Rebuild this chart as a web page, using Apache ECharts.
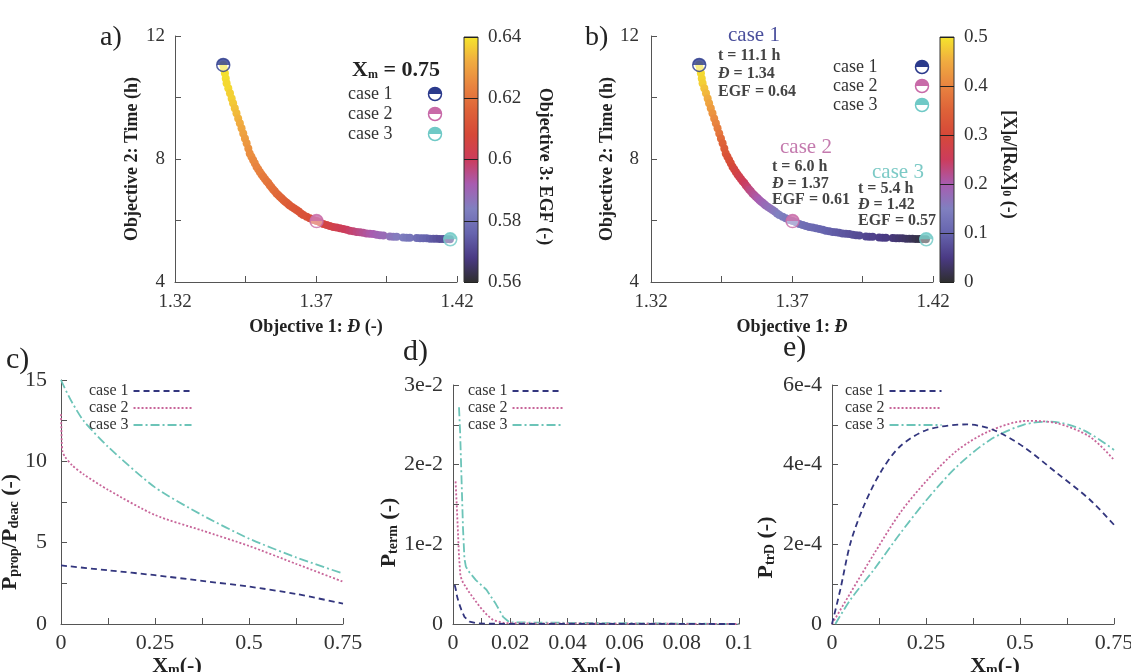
<!DOCTYPE html>
<html><head><meta charset="utf-8">
<script src="https://cdn.jsdelivr.net/npm/echarts@6/dist/echarts.min.js"></script>
<style>html,body{margin:0;padding:0;background:#fff}#c{width:1131px;height:672px}</style>
</head><body><div id="c"></div>
<script>
const FONT = '"Liberation Serif", "Times New Roman", serif';

// ---------- Pareto front (panels a, b) ----------
const paretoD = [
1.3371,1.3374,1.3377,1.3380,1.3383,1.3389,1.3395,1.3401,1.3406,1.3412,
1.3418,1.3424,1.3430,1.3436,1.3442,1.3448,1.3454,1.3460,1.3465,1.3471,
1.3477,1.3483,1.3489,1.3495,1.3501,1.3507,1.3513,1.3519,1.3525,1.3531,
1.3536,1.3542,1.3548,1.3554,1.3560,1.3566,1.3572,1.3578,1.3584,1.3590,
1.3596,1.3602,1.3607,1.3615,1.3623,1.3631,1.3639,1.3647,1.3655,1.3667,
1.3678,1.3690,1.3702,1.3714,1.3726,1.3738,1.3749,1.3761,1.3773,1.3785,
1.3797,1.3809,1.3820,1.3832,1.3844,1.3856,1.3867,1.3879,1.3891,1.3903,
1.3915,1.3927,1.3939,1.3962,1.3974,1.3986,1.4009,1.4021,1.4033,1.4057,
1.4069,1.4080,1.4092,1.4104,1.4116,1.4127,1.4139,1.4151,1.4163,1.4175];
const paretoTime = [
11.06,10.92,10.79,10.62,10.46,10.30,10.14,9.97,9.81,9.65,
9.49,9.32,9.16,9.00,8.83,8.67,8.51,8.34,8.18,8.07,
7.97,7.86,7.75,7.67,7.58,7.50,7.42,7.35,7.28,7.22,
7.15,7.08,7.01,6.95,6.88,6.83,6.77,6.72,6.67,6.62,
6.58,6.53,6.49,6.44,6.39,6.34,6.29,6.23,6.18,6.12,
6.07,6.02,5.98,5.94,5.89,5.85,5.82,5.79,5.77,5.75,
5.72,5.70,5.67,5.65,5.63,5.62,5.60,5.58,5.57,5.56,
5.54,5.52,5.51,5.48,5.47,5.47,5.45,5.44,5.44,5.43,
5.42,5.42,5.42,5.41,5.41,5.41,5.40,5.40,5.39,5.39];
const paretoEGF = [
0.640,0.640,0.639,0.639,0.638,0.638,0.637,0.637,0.636,0.635,
0.634,0.633,0.632,0.631,0.630,0.629,0.628,0.627,0.626,0.626,
0.625,0.625,0.624,0.624,0.623,0.623,0.622,0.622,0.621,0.621,
0.620,0.620,0.619,0.619,0.618,0.618,0.617,0.617,0.616,0.616,
0.615,0.615,0.614,0.614,0.613,0.613,0.612,0.612,0.611,0.611,
0.610,0.610,0.609,0.608,0.607,0.606,0.605,0.604,0.603,0.602,
0.601,0.600,0.599,0.598,0.597,0.596,0.595,0.594,0.593,0.592,
0.591,0.590,0.589,0.587,0.586,0.585,0.583,0.582,0.581,0.579,
0.578,0.577,0.576,0.575,0.574,0.573,0.572,0.572,0.571,0.570];
const paretoRatio = [
0.500,0.495,0.490,0.485,0.480,0.470,0.460,0.450,0.440,0.430,
0.420,0.410,0.400,0.390,0.380,0.365,0.350,0.340,0.330,0.320,
0.315,0.310,0.300,0.290,0.285,0.280,0.270,0.265,0.260,0.250,
0.245,0.240,0.230,0.225,0.220,0.215,0.210,0.205,0.200,0.195,
0.190,0.185,0.180,0.175,0.170,0.165,0.160,0.155,0.150,0.145,
0.140,0.135,0.130,0.127,0.124,0.121,0.118,0.115,0.112,0.109,
0.106,0.103,0.100,0.097,0.094,0.091,0.088,0.085,0.082,0.079,
0.076,0.073,0.070,0.066,0.063,0.060,0.055,0.052,0.049,0.044,
0.041,0.038,0.035,0.032,0.028,0.024,0.020,0.015,0.010,0.005];

const caseNames = ['case 1','case 2','case 3'];
const caseD = [1.3371, 1.3702, 1.4176];
const caseTime = [11.06, 5.98, 5.39];
const caseColors = ['#2b3a8c','#c86aa8','#6fc9c6'];
const caseTextColors = ['#4a4f9c','#c47aae','#7ccac6'];
const caseT = ['t = 11.1 h','t = 6.0 h','t = 5.4 h'];
const caseDisp = ['1.34','1.37','1.42'];
const caseEGFtxt = ['0.64','0.61','0.57'];

// ---------- panel c ----------
const cXm1 = [0, 0.125, 0.25, 0.375, 0.5, 0.625, 0.75];
const cCase1 = [3.6, 3.3, 3.0, 2.65, 2.3, 1.85, 1.25];
const cXm2 = [0, 0.001, 0.002, 0.004, 0.01, 0.03, 0.06, 0.125, 0.25, 0.375, 0.5, 0.625, 0.75];
const cCase2 = [12.9, 12.0, 11.2, 10.6, 10.3, 9.75, 9.2, 8.25, 6.7, 5.75, 4.8, 3.7, 2.6];
const cXm3 = [0, 0.01, 0.03, 0.06, 0.125, 0.25, 0.375, 0.5, 0.625, 0.75];
const cCase3 = [15.0, 14.5, 13.6, 12.5, 10.9, 8.4, 6.7, 5.25, 4.1, 3.1];

// ---------- panel d ----------
const dXm1 = [0.0006, 0.001, 0.0014, 0.002, 0.0029, 0.004, 0.0058, 0.008, 0.012, 0.1];
const dCase1 = [0.0049, 0.0043, 0.0035, 0.0027, 0.0018, 0.0009, 0.0003, 0.0001, 0.00003, 0];
const dXm2 = [0.0009, 0.0013, 0.0017, 0.0021, 0.0026, 0.0035, 0.0058, 0.0093, 0.012, 0.014, 0.018, 0.1];
const dCase2 = [0.0179, 0.015, 0.0118, 0.0085, 0.006, 0.0052, 0.0039, 0.0022, 0.0011, 0.0005, 0.0001, 0];
const dXm3 = [0.0021, 0.0025, 0.003, 0.0035, 0.004, 0.0045, 0.0055, 0.008, 0.0117, 0.015, 0.0175, 0.0198, 0.1];
const dCase3 = [0.0272, 0.024, 0.018, 0.012, 0.0082, 0.0072, 0.0066, 0.0055, 0.0043, 0.0025, 0.0009, 0.0002, 0];

// ---------- panel e ----------
const eXm1 = [0, 0.022, 0.049, 0.084, 0.128, 0.18, 0.252, 0.359, 0.43, 0.509, 0.598, 0.686, 0.75];
const eCase1 = [0, 0.86e-4, 2.03e-4, 2.95e-4, 3.79e-4, 4.45e-4, 4.87e-4, 5.01e-4, 4.87e-4, 4.45e-4, 3.79e-4, 3.12e-4, 2.49e-4];
const eXm2 = [0, 0.049, 0.111, 0.182, 0.252, 0.332, 0.42, 0.518, 0.598, 0.686, 0.75];
const eCase2 = [0, 0.78e-4, 1.75e-4, 2.8e-4, 3.6e-4, 4.35e-4, 4.85e-4, 5.1e-4, 5.04e-4, 4.7e-4, 4.12e-4];
const eXm3 = [0.009, 0.049, 0.111, 0.182, 0.252, 0.332, 0.42, 0.509, 0.58, 0.668, 0.75];
const eCase3 = [0, 0.61e-4, 1.36e-4, 2.28e-4, 3.12e-4, 3.95e-4, 4.62e-4, 5.0e-4, 5.08e-4, 4.87e-4, 4.37e-4];

// ---------- tick labels ----------
const abXTicks = [1.32, 1.37, 1.42], abXText = ['1.32','1.37','1.42'];
const abYTicks = [4, 8, 12], abYText = ['4','8','12'];
const cbATicks = [0.56,0.58,0.60,0.62,0.64], cbAText = ['0.56','0.58','0.6','0.62','0.64'];
const cbBTicks = [0,0.1,0.2,0.3,0.4,0.5], cbBText = ['0','0.1','0.2','0.3','0.4','0.5'];
const xmTicks = [0, 0.25, 0.5, 0.75], xmText = ['0','0.25','0.5','0.75'];
const cYTicks = [0,5,10,15], cYText = ['0','5','10','15'];
const dXTicks = [0,0.02,0.04,0.06,0.08,0.1], dXText = ['0','0.02','0.04','0.06','0.08','0.1'];
const dYTicks = [0,0.01,0.02,0.03], dYText = ['0','1e-2','2e-2','3e-2'];
const eYTicks = [0,2e-4,4e-4,6e-4], eYText = ['0','2e-4','4e-4','6e-4'];

const cmap = ['#2e2e2e','#4a3a84','#6664ae','#8080c0','#a85cb0','#cc3c5c','#d64838','#de6238','#e88440','#f0ac40','#f5e62c'];
const lineColors = ['#33367e','#c8669a','#6cc4b8'];
const lineTypes = [[6,4],[2,2],[9,3,2,3]];

function labelFmt(vals, texts) {
  return function (v) {
    for (let i = 0; i < vals.length; i++) {
      if (Math.abs(v - vals[i]) < Math.abs(vals[vals.length-1] - vals[0]) * 1e-6 + 1e-12) return texts[i];
    }
    return '';
  };
}
const subRich = (fs) => ({ s: { fontFamily: FONT, fontWeight: 'bold', fontSize: fs, verticalAlign: 'bottom', color: '#222' },
                           i: { fontFamily: FONT, fontWeight: 'bold', fontStyle: 'italic', fontSize: 18, color: '#222' } });

function vAxis(o) {
  return {
    type: 'value', gridIndex: o.grid, min: o.min, max: o.max, interval: o.interval,
    position: o.position, show: o.show !== false,
    axisLine: { show: o.line !== false, onZero: false, lineStyle: { color: '#555', width: 1 } },
    axisTick: { show: o.tick !== false, inside: true, length: 6, lineStyle: { color: '#555' } },
    splitLine: { show: !!o.split, lineStyle: { color: '#222', width: 1 } },
    axisLabel: { fontFamily: FONT, fontSize: o.fs || 19, color: '#333', margin: o.margin || 9,
                 formatter: o.fmt, showMinLabel: true, showMaxLabel: true },
    name: o.name, nameLocation: 'middle', nameGap: o.gap, nameRotate: o.rot,
    nameTextStyle: { fontFamily: FONT, fontWeight: 'bold', fontSize: o.nfs || 18, color: '#222',
                     rich: subRich(o.subfs || 12), padding: o.pad || 0 }
  };
}

const grids = [
  { left: 175, right: 674, top: 36, bottom: 390 },        // a
  { left: 464, width: 14, top: 37, height: 245 },         // a colorbar
  { left: 651, right: 198, top: 36, bottom: 390 },        // b
  { left: 940, width: 14, top: 37, height: 245 },         // b colorbar
  { left: 61, right: 788, top: 380, bottom: 48 },         // c
  { left: 453, right: 392, top: 385, bottom: 48 },        // d
  { left: 832, right: 17, top: 385, bottom: 48 }          // e
].map(g => Object.assign({ containLabel: false, outerBoundsMode: 'none' }, g));
const cbGrad = { type: 'linear', x: 0, y: 1, x2: 0, y2: 0,
  colorStops: cmap.map((c, i) => ({ offset: i / (cmap.length - 1), color: c })) };
[1, 3].forEach(i => Object.assign(grids[i], { show: true, backgroundColor: cbGrad, borderColor: '#333', borderWidth: 1 }));

const xAxes = [
  vAxis({ grid: 0, min: 1.32, max: 1.42, interval: 0.025, fmt: labelFmt(abXTicks, abXText), margin: 11,
          name: 'Objective 1: {i|Đ} (-)', gap: 36 }),
  vAxis({ grid: 1, min: 0, max: 1, show: false }),
  vAxis({ grid: 2, min: 1.32, max: 1.42, interval: 0.025, fmt: labelFmt(abXTicks, abXText), margin: 11,
          name: 'Objective 1: {i|Đ}', gap: 36 }),
  vAxis({ grid: 3, min: 0, max: 1, show: false }),
  vAxis({ grid: 4, min: 0, max: 0.75, interval: 0.125, fmt: labelFmt(xmTicks, xmText), fs: 22, margin: 8,
          name: 'X{s|m}(-)', gap: 30, nfs: 22, subfs: 14, pad: [0, 50, 0, 0] }),
  vAxis({ grid: 5, min: 0, max: 0.1, interval: 0.01, fmt: labelFmt(dXTicks, dXText), fs: 22, margin: 8,
          name: 'X{s|m}(-)', gap: 30, nfs: 22, subfs: 14 }),
  vAxis({ grid: 6, min: 0, max: 0.75, interval: 0.125, fmt: labelFmt(xmTicks, xmText), fs: 22, margin: 8,
          name: 'X{s|m}(-)', gap: 30, nfs: 22, subfs: 14, pad: [0, 0, 0, 44] })
];
const yAxes = [
  vAxis({ grid: 0, min: 4, max: 12, interval: 2, fmt: labelFmt(abYTicks, abYText), margin: 10,
          name: 'Objective 2: Time (h)', gap: 34, rot: 90 }),
  vAxis({ grid: 1, min: 0.56, max: 0.64, interval: 0.02, position: 'right', line: false, tick: false, split: true,
          fmt: labelFmt(cbATicks, cbAText), margin: 10, name: 'Objective 3: EGF (-)', gap: 58, rot: -90, pad: [0, 0, 0, 14] }),
  vAxis({ grid: 2, min: 4, max: 12, interval: 2, fmt: labelFmt(abYTicks, abYText), margin: 12,
          name: 'Objective 2: Time (h)', gap: 21, rot: 90 }),
  vAxis({ grid: 3, min: 0, max: 0.5, interval: 0.1, position: 'right', line: false, tick: false, split: true,
          fmt: labelFmt(cbBTicks, cbBText), margin: 10, name: '[X]{s|0}/[R{s|0}X]{s|0} (-)', gap: 46, rot: -90, pad: [0, 0, 0, 10] }),
  vAxis({ grid: 4, min: 0, max: 15, interval: 2.5, fmt: labelFmt(cYTicks, cYText), fs: 22, margin: 14,
          name: 'P{s|prop}/P{s|deac} (-)', gap: 20, rot: 90, nfs: 22, subfs: 14, pad: [0, 60, 0, 0] }),
  vAxis({ grid: 5, min: 0, max: 0.03, interval: 0.005, fmt: labelFmt(dYTicks, dYText), fs: 22, margin: 10,
          name: 'P{s|term} (-)', gap: 46, rot: 90, nfs: 22, subfs: 14, pad: [0, 56, 0, 0] }),
  vAxis({ grid: 6, min: 0, max: 6e-4, interval: 1e-4, fmt: labelFmt(eYTicks, eYText), fs: 22, margin: 10,
          name: 'P{s|trD} (-)', gap: 55, rot: 90, nfs: 22, subfs: 14, pad: [0, 86, 0, 0] })
];

const series = [];
function paretoSeries(ax, colorVals) {
  series.push({ type: 'scatter', xAxisIndex: ax, yAxisIndex: ax, symbolSize: 8, z: 2,
    itemStyle: { opacity: 1 },
    data: paretoD.map((d, i) => [d, paretoTime[i], colorVals[i]]) });
  series.push({ type: 'scatter', name: 'caseRing' + ax, xAxisIndex: ax, yAxisIndex: ax, symbolSize: 13, z: 4,
    data: caseD.map((d, i) => ({ value: [d, caseTime[i]],
      itemStyle: { color: 'rgba(255,255,255,0.55)', borderColor: caseColors[i], borderWidth: 1.5 } })) });
  series.push({ type: 'scatter', name: 'caseHalf' + ax, xAxisIndex: ax, yAxisIndex: ax, z: 5,
    symbol: 'path://M0,10A10,10,0,0,1,20,10Z', symbolSize: [13, 6.5], symbolOffset: [0, -3.25],
    data: caseD.map((d, i) => ({ value: [d, caseTime[i]], itemStyle: { color: caseColors[i] } })) });
}
paretoSeries(0, paretoEGF);   // series 0,1,2
paretoSeries(2, paretoRatio); // series 3,4,5

function lineSet(ax, xs, ys, smooth) {
  xs.forEach((xv, k) => {
    series.push({ type: 'line', name: caseNames[k], xAxisIndex: ax, yAxisIndex: ax, symbol: 'none',
      showSymbol: false, smooth: smooth, z: 3 - k,
      lineStyle: { color: lineColors[k], width: 1.8, type: lineTypes[k] },
      itemStyle: { color: lineColors[k] },
      data: xv.map((x, i) => [x, ys[k][i]]) });
  });
}
lineSet(4, [cXm1, cXm2, cXm3], [cCase1, cCase2, cCase3], 0.25);
lineSet(5, [dXm1, dXm2, dXm3], [dCase1, dCase2, dCase3], false);
lineSet(6, [eXm1, eXm2, eXm3], [eCase1, eCase2, eCase3], 0.3);

function legendAt(left, iconW) {
  return { left: left, top: 383, orient: 'vertical', align: 'right', padding: 0, itemGap: 1,
    itemWidth: iconW, itemHeight: 12, selectedMode: false, data: caseNames,
    itemStyle: { opacity: 0, borderWidth: 0 },
    textStyle: { fontFamily: FONT, fontSize: 16, color: '#333', lineHeight: 14 } };
}

// graphic: panel letters, a/b legends, b annotations
const g = [];
function T(x, y, text, font, fill, rich, align) {
  g.push({ type: 'text', x: x, y: y, silent: true,
    style: { text: text, font: font, fill: fill, textAlign: align || 'left', textVerticalAlign: 'middle',
             align: align || 'left', verticalAlign: 'middle', rich: rich } });
}
[['a)', 100, 38, 28], ['b)', 585, 38, 28], ['c)', 6, 360, 30], ['d)', 403, 352, 30], ['e)', 783, 348, 30]]
  .forEach(p => T(p[1], p[2], p[0], p[3] + 'px ' + FONT, '#222'));

T(352, 70, 'X{s|m} = 0.75', 'bold 22px ' + FONT, '#222',
  { s: { fontFamily: FONT, fontWeight: 'bold', fontSize: 12, verticalAlign: 'bottom', fill: '#222' } });

function legendMarker(cx, cy, color) {
  g.push({ type: 'circle', silent: true, shape: { cx: cx, cy: cy, r: 6.5 }, style: { fill: '#fff', stroke: color, lineWidth: 1.5 } });
  g.push({ type: 'sector', silent: true, shape: { cx: cx, cy: cy, r: 6.5, r0: 0, startAngle: Math.PI, endAngle: 2 * Math.PI }, style: { fill: color } });
}
const legAY = [94, 114, 134], legBY = [67, 86, 105];
caseNames.forEach((n, i) => {
  T(348, legAY[i], n, '18px ' + FONT, '#333');
  legendMarker(435, legAY[i], caseColors[i]);
  T(833, legBY[i], n, '18px ' + FONT, '#333');
  legendMarker(922, legBY[i], caseColors[i]);
});

const annHead = [[728, 35], [780, 147], [872, 172]];
const annBody = [[718, 56], [772, 167], [858, 189]];
const annStep = [18, 16.5, 16];
const italRich = { i: { fontFamily: FONT, fontWeight: 'bold', fontStyle: 'italic', fontSize: 16, fill: '#444' } };
caseNames.forEach((n, i) => {
  T(annHead[i][0], annHead[i][1], n, '21px ' + FONT, caseTextColors[i]);
  const x = annBody[i][0], y = annBody[i][1], s = annStep[i];
  T(x, y, caseT[i], 'bold 16px ' + FONT, '#444');
  T(x, y + s, '{i|Đ} = ' + caseDisp[i], 'bold 16px ' + FONT, '#444', italRich);
  T(x, y + 2 * s, 'EGF = ' + caseEGFtxt[i], 'bold 16px ' + FONT, '#444');
});

const chart = echarts.init(document.getElementById('c'), null, { renderer: 'canvas' });
chart.setOption({
  animation: false,
  backgroundColor: '#fff',
  textStyle: { fontFamily: FONT },
  grid: grids, xAxis: xAxes, yAxis: yAxes,
  visualMap: [
    { type: 'continuous', show: false, seriesIndex: 0, dimension: 2, min: 0.56, max: 0.64, inRange: { color: cmap } },
    { type: 'continuous', show: false, seriesIndex: 3, dimension: 2, min: 0, max: 0.5, inRange: { color: cmap } }
  ],
  legend: [legendAt(89, 58), legendAt(468, 50), legendAt(845, 52)],
  series: series,
  graphic: g
});
</script></body></html>
